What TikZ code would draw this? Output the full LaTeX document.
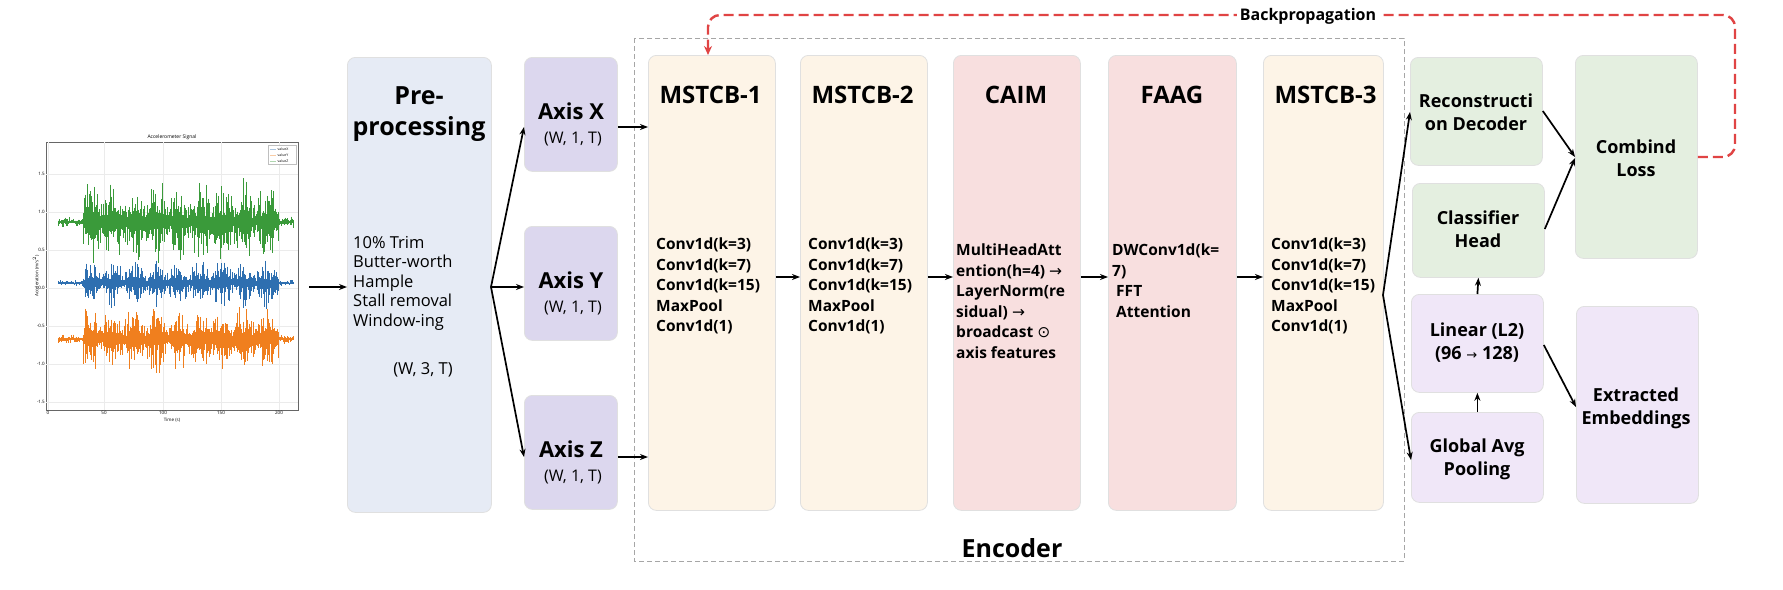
\documentclass[tikz,border=0pt]{standalone}
\usepackage{fontspec}
\setmainfont{Open Sans}
\newfontfamily\symf{DejaVu Sans}
\usetikzlibrary{arrows.meta}
\definecolor{cpre}{HTML}{E6EBF5}
\definecolor{caxis}{HTML}{DCD7EE}
\definecolor{cms}{HTML}{FDF4E7}
\definecolor{cpink}{HTML}{F8DFDF}
\definecolor{cgreen}{HTML}{E4EFE0}
\definecolor{cpurp}{HTML}{F0E7F8}
\definecolor{sgreen}{HTML}{3A9A3A}
\definecolor{sblue}{HTML}{2E6FB0}
\definecolor{sorange}{HTML}{F07F1E}
\definecolor{bpred}{HTML}{E04444}
\tikzset{
 blk/.style={draw=black!12, line width=0.8pt, rounded corners=8pt, anchor=north west, inner sep=0pt},
 ttl/.style={font=\bfseries\fontsize{24}{28}\selectfont, anchor=north},
 body/.style={font=\bfseries\fontsize{15.5}{20.5}\selectfont, align=left, anchor=north west, inner sep=0pt},
 lbl/.style={font=\bfseries\fontsize{18}{23}\selectfont, align=center},
 arr/.style={-{Stealth[length=8pt,width=6pt]}, line width=1.7pt},
}
\newcommand{\sig}[4]{% center y, color, amp, seed
 \pgfmathsetseed{#4}
 \foreach \i in {0,...,420}{
  \pgfmathsetmacro{\xx}{58+\i*0.56}
  \pgfmathsetmacro{\env}{(\i>45 && \i<395) ? (0.45+0.55*abs(sin(\i*4.6))) : 0.12}
  \pgfmathsetmacro{\aa}{#3*\env*(0.2+1.3*rnd*rnd)}
  \pgfmathsetmacro{\bb}{#3*\env*(0.2+1.3*rnd*rnd)}
  \draw[#2, line width=0.55pt] (\xx,#1-\aa) -- (\xx,#1+\bb);
 }}
\begin{document}
\begin{tikzpicture}[x=1pt,y=-1pt]
\useasboundingbox (0,0) rectangle (1783,589);
\fill[white] (0,0) rectangle (1783,589);
% ---- plot
\node[font=\fontsize{5}{6}\selectfont] (ptitle) at (172,137) {Accelerometer Signal};
\draw[black!60, line width=0.5pt] (46,142) rectangle (298,410);
\foreach \yy/\t in {174/1.5,212/1.0,250/0.5,288/0.0,326/-0.5,364/-1.0,402/-1.5}{
 \draw[black!8] (46,\yy) -- (298,\yy);
 \node[font=\fontsize{4.5}{5}\selectfont, anchor=east, inner sep=1pt] at (46,\yy) {\t};}
\foreach \xx/\t in {48/0,104/50,163/100,221/150,279/200}{
 \draw[black!8] (\xx,142) -- (\xx,410);
 \node[font=\fontsize{4.5}{5}\selectfont, anchor=north, inner sep=1pt] at (\xx,410) {\t};}
\node[font=\fontsize{4.5}{5}\selectfont] at (172,420) {Time (s)};
\node[font=\fontsize{4.5}{5}\selectfont, rotate=90] at (36,276) {Acceleration (m/s$^2$)};
\sig{222}{sgreen}{32}{7}
\sig{283}{sblue}{18}{11}
\sig{339}{sorange}{26}{19}
\draw[fill=white, draw=black!25, line width=0.3pt] (268,145) rectangle (296,164);
\foreach \yy/\c/\t in {149/sblue/valueX,155/sorange/valueY,161/sgreen/valueZ}{
 \draw[\c!40] (270,\yy) -- (276,\yy);
 \node[font=\fontsize{3.5}{4}\selectfont, anchor=west, inner sep=0.5pt] at (277,\yy) {\t};}
\coordinate (plotR) at (309,287);
% ---- preprocessing
\node[blk, fill=cpre, minimum width=144pt, minimum height=455pt] (pre) at (347,57) {};
\node[font=\bfseries\fontsize{25}{31}\selectfont, align=center, anchor=north] (pret) at (419,83) {Pre-\\processing};
\node[font=\fontsize{16.5}{19.5}\selectfont, align=left, anchor=north west, inner sep=0pt] (preb) at (353,236) {10\% Trim\\Butter-worth\\Hample\\Stall removal\\Window-ing};
\node[font=\fontsize{16.5}{19.5}\selectfont] (prew) at (423,370) {(W, 3, T)};
% ---- axes
\foreach \n/\y/\t in {ax/57/X,ay/226/Y,az/395/Z}{
 \node[blk, fill=caxis, minimum width=93pt, minimum height=114pt] (\n) at (524,\y) {};
 \node[font=\bfseries\fontsize{22}{26}\selectfont] (\n t) at (571,\y+54) {Axis \t};
 \node[font=\fontsize{16}{19}\selectfont] (\n w) at (573,\y+82) {(W, 1, T)};
}
% ---- encoder
\draw[black!35, line width=1pt, dash pattern=on 5pt off 3pt] (634,38) rectangle (1404,561);
\node[font=\bfseries\fontsize{25}{30}\selectfont] (enc) at (1012,548) {Encoder};
\node[blk, fill=cms, minimum width=127pt, minimum height=455pt] (m1) at (648,55) {};
\node[blk, fill=cms, minimum width=127pt, minimum height=455pt] (m2) at (800,55) {};
\node[blk, fill=cpink, minimum width=127pt, minimum height=455pt] (caim) at (953,55) {};
\node[blk, fill=cpink, minimum width=128pt, minimum height=455pt] (faag) at (1108,55) {};
\node[blk, fill=cms, minimum width=120pt, minimum height=455pt] (m3) at (1263,55) {};
\node[ttl, anchor=north west] (m1t) at (656,83) {MSTCB-1};
\node[ttl, anchor=north west] (m2t) at (808,83) {MSTCB-2};
\node[ttl] (caimt) at (1016,83) {CAIM};
\node[ttl] (faagt) at (1172,83) {FAAG};
\node[ttl, anchor=north west] (m3t) at (1271,83) {MSTCB-3};
\node[body] (m1b) at (656,238) {Conv1d(k=3)\\Conv1d(k=7)\\Conv1d(k=15)\\MaxPool\\Conv1d(1)};
\node[body] (m2b) at (808,238) {Conv1d(k=3)\\Conv1d(k=7)\\Conv1d(k=15)\\MaxPool\\Conv1d(1)};
\node[body] (m3b) at (1271,238) {Conv1d(k=3)\\Conv1d(k=7)\\Conv1d(k=15)\\MaxPool\\Conv1d(1)};
\node[body] (caimb) at (956,244) {MultiHeadAtt\\ention(h=4) {\symf\mdseries →}\\LayerNorm(re\\sidual) {\symf\mdseries →}\\broadcast {\symf\mdseries ⊙}\\axis features};
\node[body] (faagb) at (1112,244) {DWConv1d(k=\\7)\\\ FFT\\\ Attention};
% ---- heads
\node[blk, fill=cgreen, minimum width=132pt, minimum height=108pt] (rec) at (1410,57) {};
\node[lbl] (rect) at (1476,112) {Reconstructi\\on Decoder};
\node[blk, fill=cgreen, minimum width=132pt, minimum height=94pt] (cls) at (1412,183) {};
\node[lbl] (clst) at (1478,229) {Classifier\\Head};
\node[blk, fill=cpurp, minimum width=132pt, minimum height=98pt] (lin) at (1411,294) {};
\node[lbl] (lint) at (1477,343) {Linear (L2)\\(96 {\symf\mdseries\fontsize{13}{13}\selectfont →} 128)};
\node[blk, fill=cpurp, minimum width=132pt, minimum height=90pt] (gap) at (1411,412) {};
\node[lbl] (gapt) at (1477,459) {Global Avg\\Pooling};
\node[blk, fill=cgreen, minimum width=122pt, minimum height=203pt] (loss) at (1575,55) {};
\node[lbl] (losst) at (1636,158) {Combind\\Loss};
\node[blk, fill=cpurp, minimum width=122pt, minimum height=197pt] (emb) at (1576,306) {};
\node[lbl] (embt) at (1636,408) {Extracted\\Embeddings};
% ---- arrows
\draw[arr] (plotR) -- (pre.west |- plotR);
\coordinate (fan) at (491,287);
\draw[arr] (fan) -- (ax.west |- 0,127);
\draw[arr] (fan) -- (ay.west |- fan);
\draw[arr] (fan) -- (az.west |- 0,457);
\draw[arr] (ax.east |- 0,127) -- (m1.west |- 0,127);
\draw[arr] (az.east |- 0,457) -- (m1.west |- 0,457);
\draw[arr] (m1.east |- 0,277) -- (m2.west |- 0,277);
\draw[arr] (m2.east |- 0,277) -- (caim.west |- 0,277);
\draw[arr] (caim.east |- 0,277) -- (faag.west |- 0,277);
\draw[arr] (faag.east |- 0,277) -- (m3.west |- 0,277);
\coordinate (m3o) at (1383,295);
\draw[arr] (m3o) -- (rec.west |- 0,112);
\draw[arr] (m3o) -- (gap.west |- 0,460);
\draw[arr] (rec.east |- 0,111) -- (loss.west |- 0,157);
\draw[arr] (cls.east |- 0,229) -- (loss.west |- 0,158);
\draw[arr] (gap.north) -- (lin.south);
\draw[arr] (lin.north) -- (cls.south);
\draw[arr] (lin.east |- 0,345) -- (emb.west |- 0,407);
% ---- backprop
\draw[bpred, line width=2.4pt, dash pattern=on 10pt off 5pt, rounded corners=12pt, -{Stealth[length=9pt,width=8pt]}]
 (loss.east |- 0,157) -- (1735,157) -- (1735,15) -- (708,15) -- (m1.north -| 708,0);
\node[font=\bfseries\fontsize{16}{19}\selectfont, fill=white, inner sep=3pt] (bp) at (1308,16) {Backpropagation};
\end{tikzpicture}
\end{document}
